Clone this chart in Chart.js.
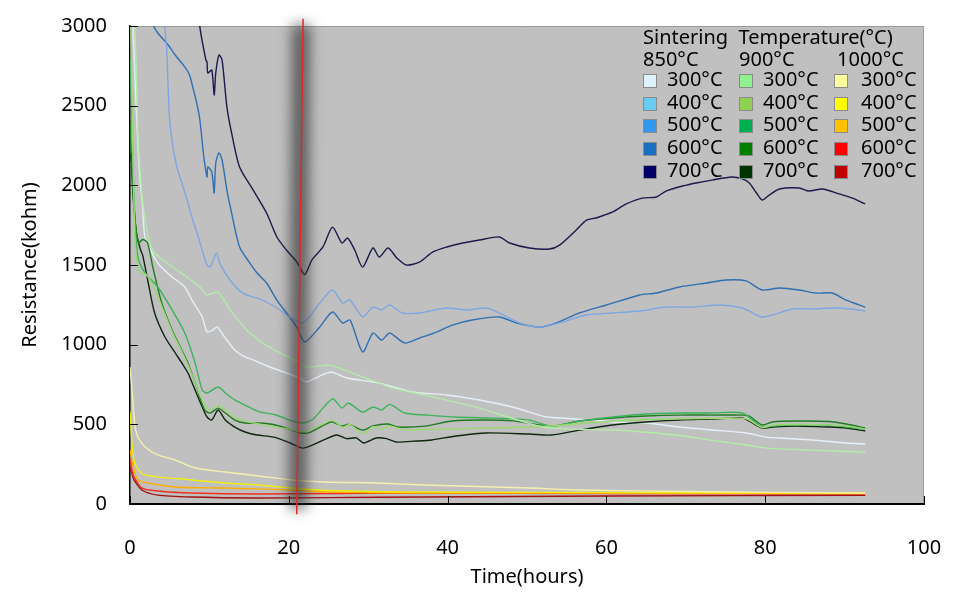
<!DOCTYPE html>
<html>
<head>
<meta charset="utf-8">
<script src="https://cdn.jsdelivr.net/npm/chart.js@4.4.0/dist/chart.umd.min.js"></script>
<style>
  body { margin: 0; background: #fff; }
  #wrap { position: relative; width: 968px; height: 599px; }
  #legend { position: absolute; left: 0; top: 0; font-family: "Noto Sans", sans-serif; font-size: 20px; color: #000; }
  #legend div { position: absolute; white-space: pre; line-height: 22px; }
  #legend .box { width: 14px; height: 14px; border: 1px solid #8a8a8a; box-sizing: border-box; }
</style>
</head>
<body>
<div id="wrap">
  <canvas id="chart" width="968" height="599"></canvas>
  <div id="legend"></div>
</div>
<script>
// sintering groups and annealing temperatures
const groups = ['850°C', '900°C', '1000°C'];
const temps = ['300°C', '400°C', '500°C', '600°C', '700°C'];
const yTicks = [0, 500, 1000, 1500, 2000, 2500, 3000];
const xTicks = [0, 20, 40, 60, 80, 100];

// legend swatches and line colours
const swatch850 = ['#ddf2fd', '#66ccf0', '#3399ee', '#1a6fc0', '#000066'];
const swatch900 = ['#8ef08e', '#92d050', '#00b050', '#008000', '#003300'];
const swatch1000 = ['#ffffa0', '#ffff00', '#ffc000', '#ff0000', '#c00000'];
const line850 = ['#e6eff8', '#66ccf0', '#7ea6e2', '#2f6fb2', '#1a1a4c'];
const line900 = ['#b2eca8', '#9ad870', '#3cb45a', '#1f7a22', '#0f260f'];
const line1000 = ['#f4f0b0', '#f0ee10', '#ffae00', '#f03020', '#a01010'];

// [time (h), resistance (kohm)]
const s850_300 = [[0.2,3200],[0.6,2700],[1.0,2250],[1.26,2033],[1.6,1864],[1.9,1676],[3.5,1512],[5.3,1425],[6.9,1362],[7.8,1280],[9.1,1174],[9.7,1080],[10.4,1092],[11.0,1111],[11.9,1048],[13.2,967],[14.5,923],[15.5,904],[17.6,860],[19.7,822],[21.4,791],[22.2,766],[25.2,828],[27.3,791],[31.4,759],[35.6,703],[39.9,684],[44.0,653],[48.2,609],[50.3,577],[52.5,546],[56.6,533],[60.8,515],[65.0,508],[69.2,483],[73.3,464],[77.6,446],[80.1,420],[81.8,414],[85.9,402],[90.2,383],[92.6,377]];
const s850_400 = []; // not visible below 3000
const s850_500 = [[4.2,3200],[4.4,2994],[4.65,2830],[4.8,2617],[5.0,2410],[5.4,2241],[6.0,2096],[6.7,1989],[7.3,1889],[7.9,1782],[8.6,1676],[9.2,1575],[9.7,1500],[10.1,1487],[10.4,1519],[10.9,1575],[11.3,1512],[12.6,1406],[14.2,1324],[16.7,1280],[18.5,1230],[20.1,1174],[21.8,1136],[23.9,1261],[25.5,1343],[26.8,1261],[27.7,1280],[29.3,1174],[30.6,1236],[31.7,1218],[32.7,1249],[34.3,1199],[36.5,1199],[39.9,1230],[42.4,1218],[44.9,1230],[46.5,1199],[49.1,1136],[51.6,1111],[54.5,1142],[57.5,1186],[60.8,1199],[64.2,1211],[67.5,1236],[70.8,1236],[74.2,1249],[77.1,1230],[78.4,1199],[79.6,1174],[80.9,1186],[83.4,1224],[85.9,1224],[88.4,1230],[90.9,1224],[92.6,1211]];
const s850_600 = [[2.5,3200],[3.0,3000],[3.5,2956],[4.8,2881],[5.7,2818],[6.9,2743],[7.5,2692],[7.9,2617],[8.4,2517],[8.8,2410],[9.2,2222],[9.4,2140],[9.7,2052],[9.8,2115],[10.3,2084],[10.6,1952],[10.8,2140],[11.2,2203],[11.6,2159],[12.2,1971],[12.8,1826],[13.8,1613],[15.1,1512],[16.0,1450],[17.2,1387],[18.5,1280],[19.7,1199],[21.0,1111],[22.0,1017],[23.9,1111],[25.5,1205],[26.8,1136],[27.7,1155],[29.3,954],[30.6,1073],[31.7,1029],[32.7,1073],[34.6,1010],[36.5,1042],[38.6,1079],[40.6,1123],[43.1,1155],[46.5,1174],[48.7,1136],[51.6,1111],[53.7,1136],[56.6,1199],[60.0,1249],[64.2,1312],[66.3,1324],[69.2,1362],[72.6,1387],[75.1,1406],[77.6,1400],[79.6,1343],[81.8,1356],[84.3,1343],[86.4,1324],[88.4,1324],[90.2,1280],[92.6,1236]];
const s850_700 = [[8.4,3250],[8.8,2994],[9.56,2786],[9.7,2774],[9.8,2705],[10.3,2724],[10.6,2567],[10.8,2705],[11.2,2818],[11.6,2786],[12.2,2492],[12.8,2328],[13.8,2115],[15.5,1971],[17.2,1826],[18.5,1676],[19.7,1594],[21.0,1520],[22.0,1440],[22.9,1531],[24.3,1613],[25.5,1738],[26.7,1638],[27.4,1669],[28.3,1594],[29.3,1487],[30.6,1607],[31.4,1550],[32.5,1607],[33.6,1544],[34.8,1500],[36.5,1519],[38.1,1581],[39.9,1613],[41.9,1638],[44.0,1657],[46.5,1676],[47.8,1638],[50.3,1607],[52.8,1600],[54.1,1625],[56.2,1720],[57.5,1782],[58.7,1795],[60.8,1833],[62.5,1883],[64.5,1920],[66.3,1927],[67.5,1964],[69.6,1996],[71.3,2015],[73.3,2033],[75.8,2052],[77.1,2040],[78.0,2015],[78.9,1952],[79.6,1908],[80.5,1939],[81.8,1977],[84.3,1983],[85.5,1964],[87.2,1977],[89.3,1946],[91.0,1920],[92.6,1883]];

const s900_300 = [[0.3,3300],[0.63,2975],[0.9,2517],[1.0,2303],[1.26,2096],[1.6,1889],[2.3,1676],[3.0,1580],[5.9,1469],[8.8,1362],[9.7,1312],[11.1,1330],[12.6,1218],[14.7,1092],[16.7,1010],[18.9,948],[21.4,885],[22.2,860],[25.2,870],[29.3,797],[32.7,734],[35.6,700],[40.0,650],[44.0,602],[48.0,540],[52.0,483],[56.0,470],[60.8,464],[65.0,450],[69.2,430],[73.3,400],[77.6,370],[80.2,351],[85.0,340],[92.6,326]];
const s900_400 = [[0,3300],[0.3,2400],[0.6,1700],[1.0,1480],[1.5,1450],[2.0,1440],[2.6,1400],[3.5,1300],[4.5,1180],[5.5,1060],[6.5,960],[7.5,850],[8.5,720],[9.4,620],[10.1,590],[11.1,620],[12.0,590],[13.2,545],[14.5,520],[17.0,495],[20.0,470],[21.5,455],[23.0,470],[25.5,525],[26.8,480],[27.7,500],[29.3,440],[30.6,485],[31.7,470],[32.7,490],[34.6,465],[38.0,470],[41.0,470],[44.0,477],[48.0,480],[53.0,490],[57.0,505],[61.0,520],[65.0,530],[70.0,535],[75.0,538],[77.6,535],[79.6,480],[81.0,495],[85.0,500],[90.0,490],[92.6,470]];
const s900_500 = [[0,2800],[0.3,2300],[0.6,1800],[1.0,1550],[1.9,1450],[3.5,1362],[5.3,1218],[6.9,1073],[8.2,885],[9.1,715],[9.7,697],[11.1,734],[12.0,697],[13.2,653],[14.5,621],[16.2,580],[18.3,560],[20.5,520],[21.6,508],[23.0,530],[25.5,660],[26.7,602],[27.5,634],[29.3,577],[30.6,609],[31.7,590],[32.7,625],[34.6,571],[37.5,558],[41.0,546],[44.9,540],[48.2,535],[50.3,527],[53.1,489],[56.6,520],[60.8,546],[65.0,565],[69.2,571],[73.3,571],[77.1,571],[79.6,483],[81.0,490],[84.0,496],[88.0,494],[92.6,470]];
const s900_600 = [[0,2400],[0.3,2000],[0.7,1750],[1.1,1640],[1.6,1660],[2.2,1640],[2.9,1480],[4.0,1261],[5.3,1092],[6.5,967],[7.3,885],[8.2,759],[9.4,590],[10.1,571],[11.1,602],[12.0,571],[13.2,527],[14.5,508],[16.2,508],[18.3,496],[20.0,470],[21.4,446],[22.7,450],[25.3,515],[26.7,490],[27.6,500],[29.3,464],[30.6,490],[32.5,502],[33.8,483],[37.1,489],[40.6,521],[44.6,527],[48.2,522],[53.1,489],[56.6,521],[60.8,540],[65.0,552],[69.2,558],[73.3,558],[77.1,558],[78.0,552],[79.6,496],[80.9,515],[83.9,521],[88.0,518],[90.2,502],[92.6,477]];
const s900_700 = [[0,2150],[0.15,2200],[0.4,1950],[0.8,1700],[1.3,1600],[1.6,1560],[2.3,1387],[3.1,1199],[4.4,1048],[5.7,948],[6.7,872],[7.3,822],[8.2,715],[9.1,609],[9.7,546],[10.3,527],[11.1,590],[12.0,527],[13.2,483],[14.5,452],[16.0,433],[18.1,420],[20.2,383],[21.8,351],[24.4,402],[26.0,433],[27.3,410],[28.5,415],[29.4,383],[31.0,414],[32.3,410],[33.5,389],[36.0,395],[38.0,402],[41.1,427],[44.9,446],[50.3,439],[53.1,433],[56.6,464],[60.8,496],[65.0,515],[69.2,527],[73.3,533],[77.1,540],[78.0,520],[79.6,477],[80.9,483],[83.9,489],[88.0,483],[90.2,477],[92.6,458]];

const s1000_300 = [[0,860],[0.25,715],[0.6,500],[1.0,420],[1.9,358],[3.5,308],[5.7,276],[7.8,232],[9.8,213],[12.0,201],[16.2,176],[20.4,151],[24.5,138],[31.0,132],[37.1,119],[50.3,100],[56.6,88],[70.0,78],[92.6,69]];
const s1000_400 = [[0,580],[0.25,383],[0.6,257],[1.5,190],[3.5,170],[7.8,151],[11.9,132],[16.0,119],[20.4,100],[25.0,85],[37.0,75],[60.0,72],[92.6,69]];
const s1000_500 = [[0,339],[0.4,232],[1.0,151],[2.3,132],[5.7,107],[11.9,100],[16.2,95],[20.0,88],[25.0,75],[37.0,69],[60.0,68],[92.6,65]];
const s1000_600 = [[0,280],[0.3,200],[0.5,170],[1.5,100],[3.5,82],[7.8,69],[16.0,63],[37.0,69],[60.0,66],[92.6,62]];
const s1000_700 = [[0,230],[0.3,180],[0.5,151],[1.5,88],[3.5,56],[7.8,44],[16.0,38],[25.0,40],[37.0,44],[60.0,50],[92.6,55]];

// marker line (time, resistance) at its top and bottom end
const markerTime = [21.8, 21.0];
const markerLevel = [3045, -65];

const series850 = [s850_300, s850_400, s850_500, s850_600, s850_700];
const series900 = [s900_300, s900_400, s900_500, s900_600, s900_700];
const series1000 = [s1000_300, s1000_400, s1000_500, s1000_600, s1000_700];

const datasets = [];
[[series1000, line1000, '1000°C'], [series900, line900, '900°C'], [series850, line850, '850°C']].forEach(([list, cols, g]) => {
  list.forEach((pts, i) => {
    if (!pts.length) return;
    datasets.push({
      label: g + ' ' + temps[i],
      data: pts.map(p => ({ x: p[0], y: p[1] })),
      borderColor: cols[i],
      backgroundColor: cols[i],
      borderWidth: 1.4,
      pointRadius: 0,
      tension: 0.25,
      fill: false
    });
  });
});

const font = { family: '"Noto Sans", sans-serif', size: 20 };

const framePlugin = {
  id: 'frame',
  beforeDraw(chart) {
    const { ctx, chartArea: a } = chart;
    ctx.save();
    ctx.fillStyle = '#c0c0c0';
    ctx.fillRect(a.left, a.top, a.right - a.left, a.bottom - a.top);
    ctx.strokeStyle = '#9a9a9a';
    ctx.lineWidth = 1;
    ctx.beginPath();
    ctx.moveTo(a.left, a.top + 0.5);
    ctx.lineTo(a.right - 0.5, a.top + 0.5);
    ctx.lineTo(a.right - 0.5, a.bottom);
    ctx.stroke();
    ctx.restore();
  },
  afterDatasetsDraw(chart) {
    const { ctx, chartArea: a, scales: { x, y } } = chart;
    ctx.save();
    // inside tick marks
    ctx.strokeStyle = '#000';
    ctx.lineWidth = 1;
    ctx.beginPath();
    yTicks.forEach(v => {
      const py = Math.round(y.getPixelForValue(v)) + 0.5;
      ctx.moveTo(a.left, py); ctx.lineTo(a.left + 8, py);
    });
    xTicks.forEach(v => {
      const px = Math.round(x.getPixelForValue(v)) + 0.5;
      ctx.moveTo(px, a.bottom); ctx.lineTo(px, a.bottom - 8);
    });
    ctx.stroke();
    // blurred shadow band and red marker
    const x0 = x.getPixelForValue(markerTime[0]), y0 = y.getPixelForValue(markerLevel[0]);
    const x1 = x.getPixelForValue(markerTime[1]), y1 = y.getPixelForValue(markerLevel[1]);
    ctx.filter = 'blur(7px)';
    ctx.strokeStyle = 'rgba(45,45,45,0.72)';
    ctx.lineWidth = 17;
    ctx.beginPath(); ctx.moveTo(x0 - 2, y0 + 6); ctx.lineTo(x1 + 1, y1 - 6); ctx.stroke();
    ctx.filter = 'none';
    ctx.strokeStyle = '#e02828';
    ctx.lineWidth = 1.5;
    ctx.beginPath(); ctx.moveTo(x0, y0); ctx.lineTo(x1, y1); ctx.stroke();
    ctx.restore();
  }
};

new Chart(document.getElementById('chart'), {
  type: 'line',
  data: { datasets },
  plugins: [framePlugin],
  options: {
    responsive: false,
    animation: false,
    layout: { padding: { top: 26, right: 44, left: 0, bottom: 0 } },
    plugins: { legend: { display: false }, tooltip: { enabled: false } },
    scales: {
      x: {
        type: 'linear', min: 0, max: 100,
        afterFit: s => { s.height = 95; },
        afterBuildTicks: s => { s.ticks = xTicks.map(v => ({ value: v })); },
        ticks: { font, color: '#000', padding: 0, maxRotation: 0, callback: v => String(v) },
        grid: { display: true, drawOnChartArea: false, drawTicks: true, tickLength: 32, tickColor: 'rgba(0,0,0,0)' },
        border: { display: true, color: '#000', width: 2 },
        title: { display: true, text: 'Time(hours)', font, color: '#000', padding: { top: 0, bottom: 10 } }
      },
      y: {
        min: 0, max: 3000,
        afterFit: s => { s.width = 130; },
        afterBuildTicks: s => { s.ticks = yTicks.map(v => ({ value: v })); },
        ticks: { font, color: '#000', padding: 0, callback: v => String(v) },
        grid: { display: true, drawOnChartArea: false, drawTicks: true, tickLength: 23, tickColor: 'rgba(0,0,0,0)' },
        border: { display: true, color: '#000', width: 1.5 },
        title: { display: true, text: 'Resistance(kohm)', font, color: '#000', padding: { top: 18, bottom: 0 } }
      }
    }
  }
});

// legend built from the same arrays
const legend = document.getElementById('legend');
function put(text, left, centerY, cls, bg) {
  const d = document.createElement('div');
  if (cls) {
    d.className = cls;
    d.style.left = left + 'px';
    d.style.top = (centerY - 7) + 'px';
    d.style.background = bg;
  } else {
    d.textContent = text;
    d.style.left = left + 'px';
    d.style.top = (centerY - 12) + 'px';
  }
  legend.appendChild(d);
}
put('Sintering  Temperature(°C)', 643, 38);
const colX = [643, 739, 834];
const swatches = [swatch850, swatch900, swatch1000];
groups.forEach((g, c) => put(g, colX[c] + (c === 2 ? 3 : 0), 60));
temps.forEach((t, r) => {
  const cy = 80 + r * 22.7;
  groups.forEach((g, c) => {
    put('', colX[c], cy + 1, 'box', swatches[c][r]);
    put(t, colX[c] + 24 + (c === 2 ? 3 : 0), cy);
  });
});
</script>
</body>
</html>
